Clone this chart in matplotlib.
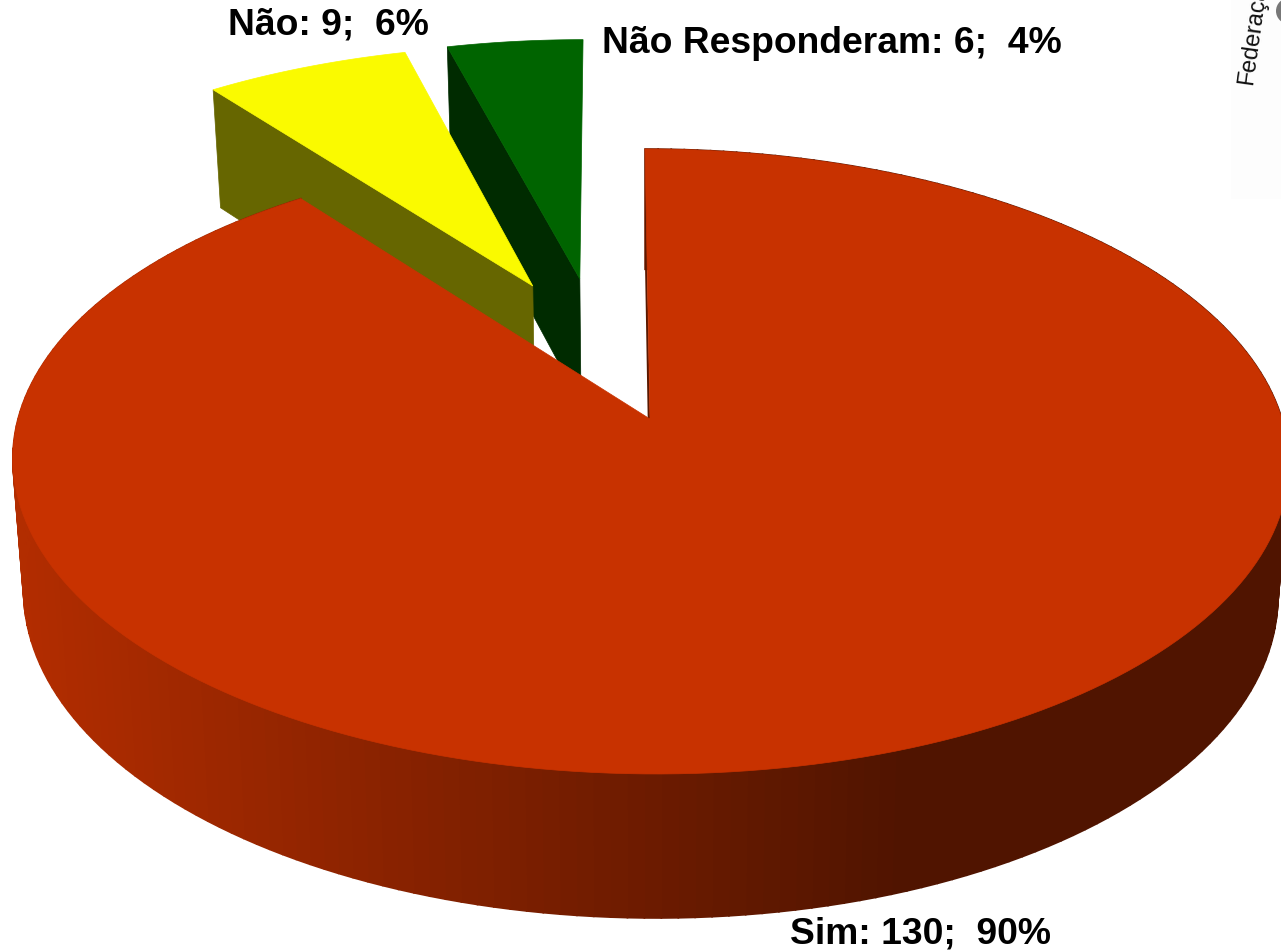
import numpy as np
import matplotlib
matplotlib.use('Agg')
import matplotlib.pyplot as plt
from matplotlib.patches import Polygon, Circle, Rectangle

categories = ['Sim', 'Não', 'Não Responderam']
values = [130, 9, 6]
percents = [90, 6, 4]
top_colors = ['#C83200', '#FAFA00', '#006400']
side_colors = [None, '#666600', '#002B00']

plt.rcParams['font.family'] = ['Liberation Sans', 'DejaVu Sans']

fig = plt.figure(figsize=(12.81, 9.53), dpi=100)
ax = fig.add_axes([0, 0, 1, 1])
ax.set_xlim(0, 1281)
ax.set_ylim(953, 0)
ax.axis('off')

cx, cy = 650, 420
a, b, k = 632, 306.7, 0.136
shear = 0.0185


def project(u, v):
    w = 1 + k * v
    y = cy - b * v / w
    x = cx + a * u / w + shear * (y - cy)
    return np.column_stack([x, y])


def drop(pts):
    # same points on the lower face of the disc
    x = cx + 0.983 * (pts[:, 0] - cx)
    y = pts[:, 1] + 118 + (pts[:, 1] - 90) * 0.038
    return np.column_stack([x, y])


def rim(t0, t1, off, n=200):
    t = np.radians(np.linspace(t0, t1, n))
    return project(np.cos(t) + off[0], np.sin(t) + off[1])


total = sum(values)
ends = 90 - np.cumsum(values) / total * 360
starts = np.r_[90, ends[:-1]]
offsets = [(0, 0), (-0.193, 0.461), (-0.114, 0.487)]

# small wedges first, they sit behind the big one
for i in [2, 1]:
    off = offsets[i]
    arc = rim(starts[i], ends[i], off)
    apex = project(np.array([off[0]]), np.array([off[1]]))
    # cut face on the left side of the slice
    p_out = arc[0:1]
    face = np.vstack([p_out, apex, drop(apex), drop(p_out)])
    ax.add_patch(Polygon(face, closed=True, fc=side_colors[i], ec=side_colors[i], lw=0.5))
    ax.add_patch(Polygon(np.vstack([apex, arc]), closed=True, fc=top_colors[i],
                         ec=top_colors[i], lw=0.5))

# big slice: outer wall as strips, shaded by x
arc = rim(starts[0], ends[0], offsets[0], n=240)
low = drop(arc)
for j in range(len(arc) - 1):
    xm = arc[j:j + 2, 0].mean()
    r = np.clip(178 - (xm - 20) * 0.111, 80, 178) / 255
    col = (r, r * 0.25, 0)
    ax.add_patch(Polygon(np.vstack([arc[j], arc[j + 1], low[j + 1], low[j]]), closed=True,
                         fc=col, ec=col, lw=1.2))

apex = project(np.array([0.0]), np.array([0.0]))
face = np.vstack([arc[0:1], apex, drop(apex), drop(arc[0:1])])
ax.add_patch(Polygon(face, closed=True, fc='#5A1800', ec='none'))
ax.add_patch(Polygon(np.vstack([apex, arc]), closed=True, fc=top_colors[0],
                     ec=top_colors[0], lw=0.5))

# labels
label_fmt = '{}: {};  {}%'
label_pos = [(790, 944), (228, 34), (602, 53)]
for name, val, pct, pos in zip(categories, values, percents, label_pos):
    ax.text(pos[0], pos[1], label_fmt.format(name, val, pct), fontsize=26.85, fontweight='bold',
            color='black', ha='left', va='baseline')

# leftover of the legend at the top right corner
ax.add_patch(Rectangle((1231, 0), 50, 200, fc='#FDFDFD', ec='none', zorder=0))
ax.text(1252, 85, 'Federação', fontsize=17, rotation=82, ha='left', va='baseline',
        rotation_mode='anchor', color='#111111', clip_on=True)
ax.add_patch(Circle((1289, 12), 13, fc='#777777', ec='none'))

fig.savefig('out.png', dpi=100)
